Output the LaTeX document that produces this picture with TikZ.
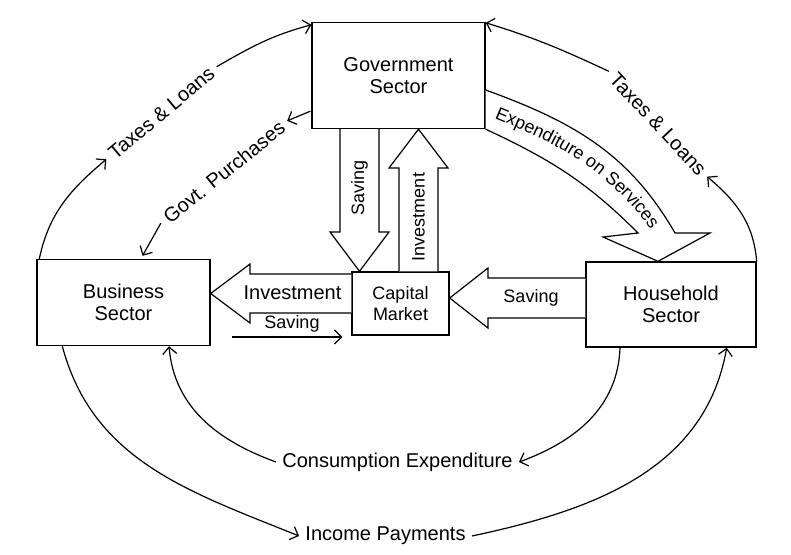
\documentclass[tikz,border=0pt]{standalone}
\usepackage{fontspec}
\setmainfont{Liberation Sans}
\usepackage{tikz}
\usetikzlibrary{arrows.meta,calc,decorations.text}
\tikzset{sector/.style={draw=black,line width=.7pt,align=center,font=\fontsize{10}{11}\selectfont,inner sep=2pt},lab/.style={font=\fontsize{10}{12}\selectfont,inner sep=3pt},slab/.style={font=\fontsize{9}{10.5}\selectfont,inner sep=2pt},flow/.style={-{Straight Barb[length=3.5pt,width=7pt]},line width=.6pt},hollow/.style={draw=black,fill=white,line width=.6pt,line join=miter}}

\begin{document}
\begin{tikzpicture}[x=.5pt,y=.5pt]
\useasboundingbox (0,0) rectangle (791,554);
\node[sector,minimum width=86.5pt,minimum height=53pt] (gov) at (398.5,478.5) {Government\\Sector};
\node[sector,minimum width=86.5pt,minimum height=43pt] (bus) at (123.5,251.5) {Business\\Sector};
\node[sector,minimum width=85pt,minimum height=42.5pt] (hh) at (671,249.5) {Household\\Sector};
\node[sector,minimum width=48.5pt,minimum height=31.5pt,font=\fontsize{9}{10.5}\selectfont] (cap) at (400.5,250.5) {Capital\\Market};
% block arrows
\draw[hollow] (cap.west|-0,280) -- (250,280) -- (250,290) -- (bus.east|-0,260.5) -- (250,231) -- (250,241) -- (cap.west|-0,241);
\draw[hollow] (hh.west|-0,276) -- (488,276) -- (488,286) -- (cap.east|-0,256) -- (488,226) -- (488,236) -- (hh.west|-0,236);
\draw[hollow] (340,0|-gov.south) -- (340,322) -- (330,322) -- (359.5,0|-cap.north) -- (389,322) -- (379,322) -- (379,0|-gov.south);
\draw[hollow] (399,0|-cap.north) -- (399,386) -- (389,386) -- (418.5,0|-gov.south) -- (448,386) -- (438,386) -- (438,0|-cap.north);
\draw[hollow] (gov.east|-0,464) to[out=-20,in=120] (675,321) -- (710,321) -- (658,0|-hh.north) -- (603,317) -- (638,321) to[out=135,in=-25] (gov.south east);
\path[decorate,decoration={text along path,text align=center,text={|\fontsize{9}{9}\selectfont|Expenditure on Services}}] (486,439) to[out=-22,in=125] (656,317);
\node[lab] (inv) at (292.5,261) {Investment};
\node[slab] (sv1) at (292,230) {Saving};
\node[slab] (sv2) at (531,256) {Saving};
\node[slab,rotate=90] (sv3) at (359.5,366) {Saving};
\node[slab,rotate=90] (inv2) at (418.5,337) {Investment};
% flows
\node[lab,rotate=40] (tl) at (161.5,441) {Taxes \& Loans};
\node[lab,rotate=-47] (tr) at (658,430) {Taxes \& Loans};
\node[lab,rotate=39] (gp) at (224,382) {Govt. Purchases};
\node[lab] (ce) at (397.5,92) {Consumption Expenditure};
\node[lab] (ip) at (385.5,18) {Income Payments};
\draw[flow] ($(bus.north west)+(3,0)$) to[out=78,in=220] (tl.west);\draw[flow] (tl.east) to[out=30,in=195] ($(gov.north west)+(0,-3)$);
\draw[flow] (hh.north east) to[out=95,in=-40] (tr.east);\draw[flow] (tr.west) to[out=155,in=-17] ($(gov.north east)+(0,-1)$);
\draw[flow] ($(gov.south west)+(-1,18)$) -- (gp.east);\draw[flow] (gp.west) -- ($(bus.north)+(19,3)$);
\draw[flow] ($(bus.east)+(21,-34.5)$) -- ($(cap.west)+(-9,-33.5)$);
\draw[flow] ($(hh.south)+(-51,0)$) to[out=-92,in=20] (ce.east);\draw[flow] (ce.west) to[out=160,in=-85] ($(bus.south)+(45.5,0)$);
\draw[flow] ($(bus.south west)+(26,0)$) to[out=-75,in=158] (ip.west);\draw[flow] (ip.east) to[out=12,in=-100] ($(hh.south east)+(-30,0)$);
\end{tikzpicture}
\end{document}
